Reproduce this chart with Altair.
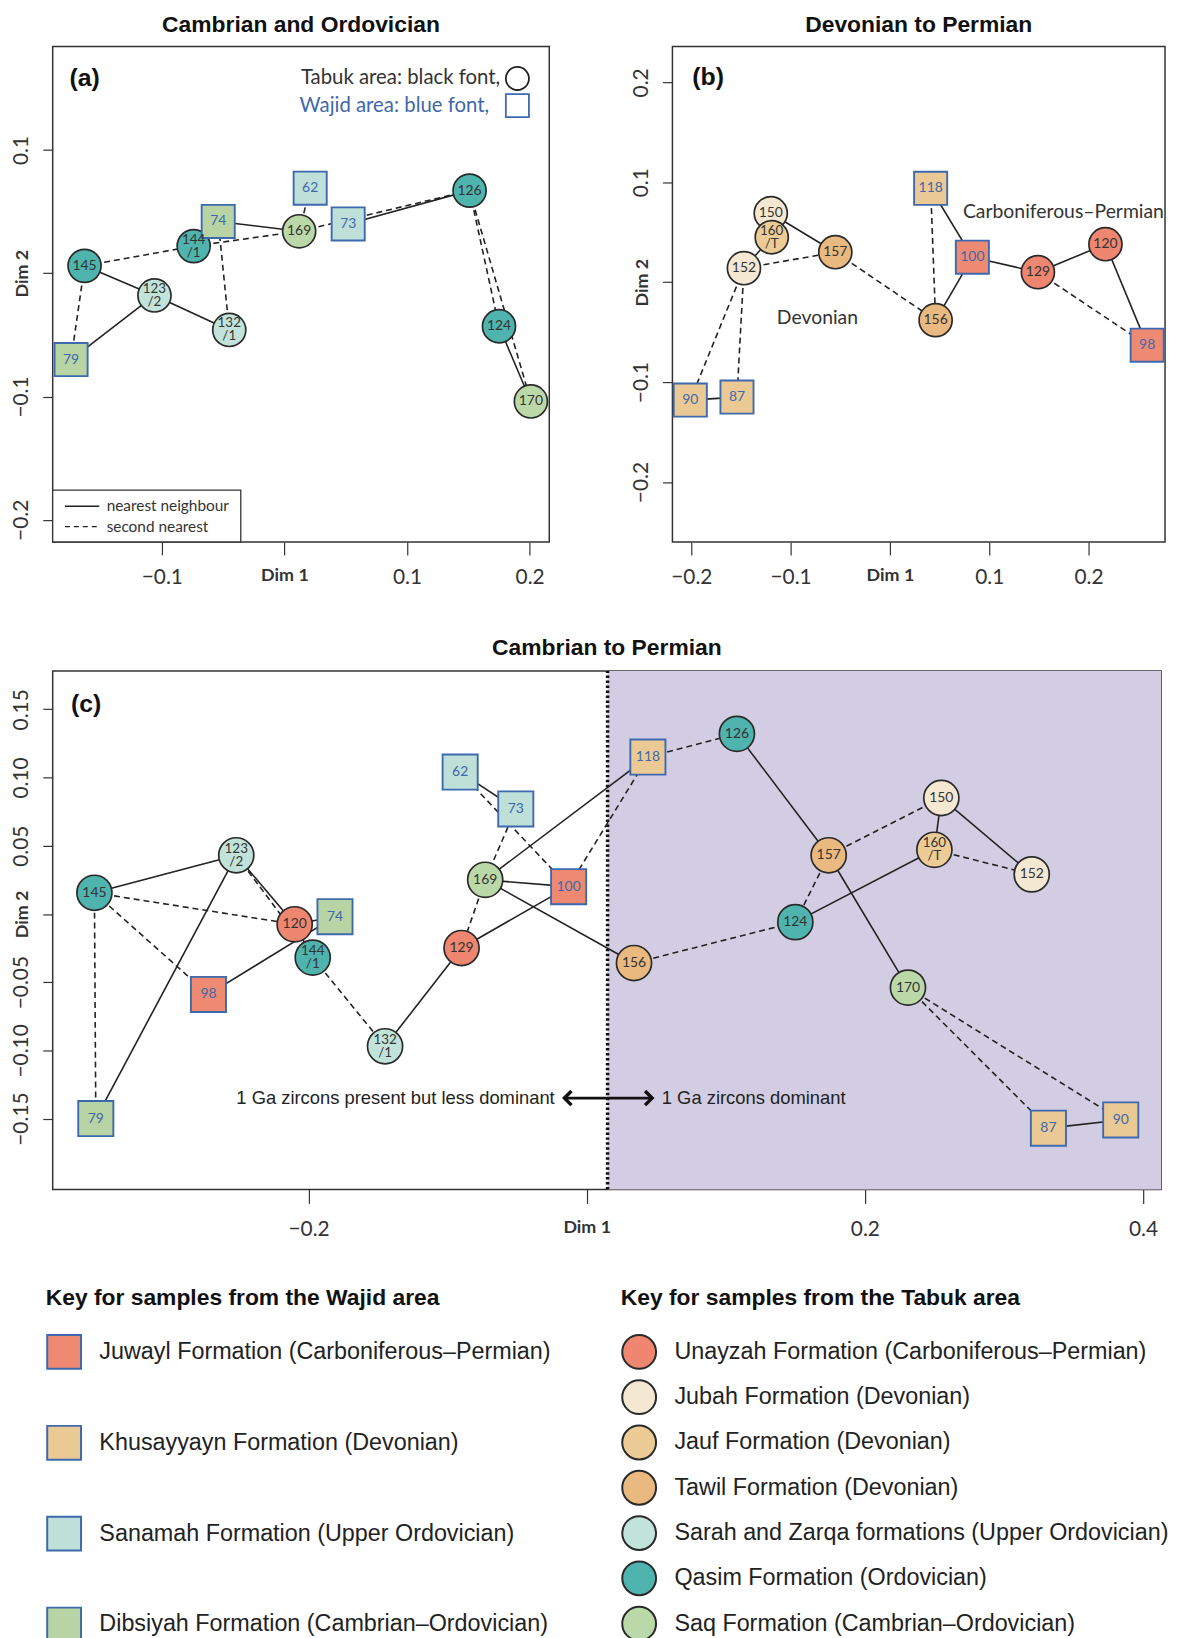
import altair as alt
import pandas as pd

# ---------------- formations ----------------
FORM_KEYS = ["Juwayl", "Khusayyayn", "Sanamah", "Dibsiyah",
             "Unayzah", "Jubah", "Jauf", "Tawil", "Sarah", "Qasim", "Saq"]
FORM_NAMES = ["Juwayl Formation (Carboniferous–Permian)",
              "Khusayyayn Formation (Devonian)",
              "Sanamah Formation (Upper Ordovician)",
              "Dibsiyah Formation (Cambrian–Ordovician)",
              "Unayzah Formation (Carboniferous–Permian)",
              "Jubah Formation (Devonian)",
              "Jauf Formation (Devonian)",
              "Tawil Formation (Devonian)",
              "Sarah and Zarqa formations (Upper Ordovician)",
              "Qasim Formation (Ordovician)",
              "Saq Formation (Cambrian–Ordovician)"]
FORM_AREA = ["Wajid"] * 4 + ["Tabuk"] * 7
FORM_COLORS = ["#EE8A72", "#EAC995", "#BFDFD9", "#B8D4A4",
               "#EE8670", "#F4E8D3", "#EDCB96", "#EAB980", "#C2E3DA", "#4FB3AE", "#BBD9A8"]

# ---------------- panel (a) ----------------
A_IDS = ["145", "123/2", "132/1", "79", "144/1", "74", "169", "62", "73", "126", "124", "170"]
A_X = [-0.163, -0.106, -0.045, -0.174, -0.074, -0.054, 0.012, 0.021, 0.052, 0.151, 0.175, 0.201]
A_Y = [0.006, -0.018, -0.046, -0.070, 0.022, 0.042, 0.034, 0.069, 0.040, 0.067, -0.043, -0.104]
A_FORM = ["Qasim", "Sarah", "Sarah", "Dibsiyah", "Qasim", "Dibsiyah", "Saq", "Sanamah",
          "Sanamah", "Qasim", "Qasim", "Saq"]
A_SOLID = [("145", "123/2"), ("123/2", "132/1"), ("123/2", "79"), ("74", "169"),
           ("73", "126"), ("124", "170"), ("144/1", "74")]
A_DASHED = [("145", "144/1"), ("144/1", "169"), ("145", "79"), ("132/1", "74"),
            ("169", "126"), ("62", "169"), ("126", "124"), ("126", "170")]
A_XDOM = [-0.189, 0.216]
A_YDOM = [-0.218, 0.184]
A_XTICKS = [-0.1, 0, 0.1, 0.2]
A_YTICKS = [-0.2, -0.1, 0, 0.1]

# ---------------- panel (b) ----------------
B_IDS = ["150", "160/T", "152", "157", "90", "87", "156", "118", "100", "129", "120", "98"]
B_X = [-0.120, -0.119, -0.147, -0.055, -0.201, -0.154, 0.046, 0.041, 0.083, 0.149, 0.217, 0.259]
B_Y = [0.069, 0.045, 0.014, 0.030, -0.118, -0.115, -0.038, 0.094, 0.025, 0.010, 0.038, -0.063]
B_FORM = ["Jubah", "Jauf", "Jubah", "Tawil", "Khusayyayn", "Khusayyayn", "Tawil", "Khusayyayn",
          "Juwayl", "Unayzah", "Unayzah", "Juwayl"]
B_SOLID = [("150", "157"), ("150", "160/T"), ("160/T", "152"), ("90", "87"), ("118", "100"),
           ("100", "156"), ("100", "129"), ("129", "120"), ("120", "98")]
B_DASHED = [("152", "157"), ("152", "90"), ("152", "87"), ("157", "156"), ("118", "156"),
            ("129", "98")]
B_XDOM = [-0.219, 0.277]
B_YDOM = [-0.260, 0.236]
B_TICKS = [-0.2, -0.1, 0, 0.1, 0.2]

# ---------------- panel (c) ----------------
C_IDS = ["145", "123/2", "120", "74", "144/1", "98", "132/1", "79", "62", "73", "169", "100",
         "129", "118", "126", "150", "157", "160/T", "152", "124", "156", "170", "87", "90"]
C_X = [-0.354, -0.252, -0.210, -0.181, -0.197, -0.272, -0.145, -0.353, -0.091, -0.051, -0.073,
       -0.013, -0.090, 0.044, 0.108, 0.255, 0.174, 0.250, 0.320, 0.150, 0.034, 0.231, 0.332, 0.384]
C_Y = [0.0155, 0.043, -0.0076, -0.002, -0.032, -0.059, -0.097, -0.150, 0.104, 0.077, 0.025,
       0.020, -0.025, 0.115, 0.132, 0.085, 0.043, 0.047, 0.029, -0.006, -0.036, -0.054, -0.157, -0.151]
C_FORM = ["Qasim", "Sarah", "Unayzah", "Dibsiyah", "Qasim", "Juwayl", "Sarah", "Dibsiyah",
          "Sanamah", "Sanamah", "Saq", "Juwayl", "Unayzah", "Khusayyayn", "Qasim", "Jubah",
          "Tawil", "Jauf", "Jubah", "Qasim", "Tawil", "Saq", "Khusayyayn", "Khusayyayn"]
C_SOLID = [("145", "123/2"), ("123/2", "79"), ("123/2", "120"), ("120", "74"), ("144/1", "120"),
           ("98", "74"), ("132/1", "129"), ("129", "100"), ("169", "100"), ("169", "118"),
           ("169", "156"), ("62", "73"), ("126", "157"), ("157", "170"), ("150", "160/T"),
           ("150", "152"), ("160/T", "124"), ("87", "90")]
C_DASHED = [("145", "79"), ("145", "120"), ("145", "98"), ("123/2", "144/1"), ("144/1", "132/1"),
            ("62", "100"), ("73", "169"), ("169", "129"), ("100", "118"), ("118", "126"),
            ("156", "124"), ("157", "150"), ("157", "124"), ("160/T", "152"), ("170", "87"),
            ("170", "90")]
C_XDOM = [-0.384, 0.413]
C_YDOM = [-0.202, 0.178]
C_XTICKS = [-0.2, 0, 0.2, 0.4]
C_YTICKS = [-0.15, -0.10, -0.05, 0, 0.05, 0.10, 0.15]
C_SPLIT = 0.015

LINE_COL = "#222222"
SQ_STROKE = "#3E69AE"
TXT_BLUE = "#4068AA"
DASH = [6, 4]
LW = 1.6


def nodes_df(ids, xs, ys, forms):
    d = pd.DataFrame({"id": ids, "x": xs, "y": ys, "form": forms})
    parts = d["id"].str.split("/")
    d["l1"] = parts.str[0]
    d["l2"] = parts.apply(lambda p: "/" + p[1] if len(p) > 1 else "")
    info = pd.DataFrame({"form": FORM_KEYS, "name": FORM_NAMES, "area": FORM_AREA,
                         "fill": FORM_COLORS})
    d = d.merge(info, on="form", how="left")
    d["txtcol"] = d["area"].map({"Wajid": TXT_BLUE, "Tabuk": "#333333"})
    return d


def edges_df(nodes, pairs):
    pos = nodes.set_index("id")
    return pd.DataFrame([{"x1": pos.loc[a, "x"], "y1": pos.loc[a, "y"],
                          "x2": pos.loc[b, "x"], "y2": pos.loc[b, "y"]} for a, b in pairs])


def cond(v0, v):
    return {"condition": {"test": "datum.value == 0", "value": v0}, "value": v}


def make_axis(ticks, fmt, name, orient, tick=10, pad=11):
    kw = dict(values=ticks,
              labelExpr=f"datum.value == 0 ? '{name}' : format(datum.value, '{fmt}')",
              grid=False, domain=False, tickSize=tick, tickWidth=1.2, tickColor="#333",
              labelColor="#333", labelFont="Lato", labelFontSize=cond(18, 21),
              labelFontWeight=cond("bold", "normal"), labelOverlap=False, labelFlush=False,
              labelPadding=pad, title=None)
    if orient == "y":
        kw.update(labelAngle=270, labelAlign="center", labelBaseline="bottom",
                  minExtent=44, maxExtent=44)
    return alt.Axis(**kw)


def panel(nodes, solid, dashed, xdom, ydom, xticks, yticks, xfmt, yfmt, size, fontsize,
          xtick=13, xpad=12, legend_c=False):
    xax = make_axis(xticks, xfmt, "Dim 1", "x", tick=xtick, pad=xpad)
    yax = make_axis(yticks, yfmt, "Dim 2", "y")

    def X(f):
        return alt.X(f, type="quantitative", scale=alt.Scale(domain=xdom, nice=False, zero=False),
                     axis=xax, title=None)

    def Y(f):
        return alt.Y(f, type="quantitative", scale=alt.Scale(domain=ydom, nice=False, zero=False),
                     axis=yax, title=None)

    sol = alt.Chart(edges_df(nodes, solid)).mark_rule(color=LINE_COL, strokeWidth=LW).encode(
        x=X("x1"), y=Y("y1"), x2="x2", y2="y2")
    das = alt.Chart(edges_df(nodes, dashed)).mark_rule(
        color=LINE_COL, strokeWidth=LW, strokeDash=DASH).encode(
        x=X("x1"), y=Y("y1"), x2="x2", y2="y2")

    circ = nodes[nodes["area"] == "Tabuk"]
    squ = nodes[nodes["area"] == "Wajid"]
    tab_names = [n for n, a in zip(FORM_NAMES, FORM_AREA) if a == "Tabuk"]
    tab_cols = [c for c, a in zip(FORM_COLORS, FORM_AREA) if a == "Tabuk"]
    waj_names = [n for n, a in zip(FORM_NAMES, FORM_AREA) if a == "Wajid"]
    waj_cols = [c for c, a in zip(FORM_COLORS, FORM_AREA) if a == "Wajid"]

    leg_common = dict(orient="none", direction="vertical", labelFont="Liberation Sans",
                      labelFontSize=23.5, labelColor="#222", titleFont="Liberation Sans",
                      titleFontSize=23, titleFontWeight="bold", titleColor="#111",
                      titlePadding=24, labelOffset=17, labelLimit=800, titleLimit=800,
                      symbolSize=1160, symbolStrokeWidth=2, padding=0, symbolOpacity=1)
    if legend_c:
        fill_c = alt.Fill("name:N", scale=alt.Scale(domain=tab_names, range=tab_cols),
                          legend=alt.Legend(title="Key for samples from the Tabuk area",
                                            legendX=572, legendY=620, symbolType="circle",
                                            symbolStrokeColor="#2a2a2a", rowPadding=2.6,
                                            **leg_common))
        fill_s = alt.Fill("name:N", scale=alt.Scale(domain=waj_names, range=waj_cols),
                          legend=alt.Legend(title="Key for samples from the Wajid area",
                                            legendX=-7, legendY=620, symbolType="square",
                                            symbolStrokeColor=SQ_STROKE, rowPadding=48.5,
                                            **leg_common))
    else:
        fill_c = alt.Fill("fill:N", scale=None)
        fill_s = alt.Fill("fill:N", scale=None)

    pc = alt.Chart(circ).mark_point(shape="circle", filled=True, size=size, stroke="#2a2a2a",
                                    strokeWidth=1.7, opacity=1).encode(
        x=X("x"), y=Y("y"), fill=fill_c)
    ps = alt.Chart(squ).mark_point(shape="square", filled=True, size=size, stroke=SQ_STROKE,
                                   strokeWidth=1.9, opacity=1).encode(
        x=X("x"), y=Y("y"), fill=fill_s)
    single = nodes[nodes["l2"] == ""]
    double = nodes[nodes["l2"] != ""]
    col = alt.Color("txtcol:N", scale=None)
    lab1 = alt.Chart(single).mark_text(font="Lato", fontSize=fontsize, baseline="middle",
                                       align="center").encode(
        x=X("x"), y=Y("y"), text="l1:N", color=col)
    lab2a = alt.Chart(double).mark_text(font="Lato", fontSize=fontsize - 0.5, baseline="middle",
                                        align="center", dy=-6.5).encode(
        x=X("x"), y=Y("y"), text="l1:N", color=col)
    lab2b = alt.Chart(double).mark_text(font="Lato", fontSize=fontsize - 0.5, baseline="middle",
                                        align="center", dy=6.5).encode(
        x=X("x"), y=Y("y"), text="l2:N", color=col)
    return X, Y, [sol, das], [pc, ps, lab1, lab2a, lab2b]


def tchart(df, X, Y, **mk):
    return alt.Chart(df).mark_text(**mk).encode(x=X("x"), y=Y("y"), text="t:N")


# ================= panel (a) =================
na = nodes_df(A_IDS, A_X, A_Y, A_FORM)
Xa, Ya, ea, pa = panel(na, A_SOLID, A_DASHED, A_XDOM, A_YDOM, A_XTICKS, A_YTICKS, ".1f", ".1f",
                       1110, 14)
A_KEYBOX = pd.DataFrame({"x": [A_XDOM[0]], "x2": [-0.0356], "y": [A_YDOM[0]], "y2": [-0.176]})
A_KEYLINES = pd.DataFrame({"x": [-0.179, -0.179], "x2": [-0.151, -0.151], "y": [-0.189, -0.2055],
                           "k": ["solid", "dashed"]})
A_KEYTXT = pd.DataFrame({"x": [-0.145, -0.145], "y": [-0.189, -0.2055],
                         "t": ["nearest neighbour", "second nearest"]})
keybox = alt.Chart(A_KEYBOX).mark_rect(fill="white", stroke="#333", strokeWidth=1.3).encode(
    x=Xa("x"), x2="x2", y=Ya("y"), y2="y2")
keyl1 = alt.Chart(A_KEYLINES[A_KEYLINES.k == "solid"]).mark_rule(
    color=LINE_COL, strokeWidth=1.4).encode(x=Xa("x"), x2="x2", y=Ya("y"))
keyl2 = alt.Chart(A_KEYLINES[A_KEYLINES.k == "dashed"]).mark_rule(
    color=LINE_COL, strokeWidth=1.4, strokeDash=[5, 4]).encode(x=Xa("x"), x2="x2", y=Ya("y"))
keyt = tchart(A_KEYTXT, Xa, Ya, font="Lato", fontSize=15.5, align="left", baseline="middle",
              color="#333")
a_tag = tchart(pd.DataFrame({"x": [-0.163], "y": [0.158], "t": ["(a)"]}), Xa, Ya,
               font="Liberation Sans", fontSize=25, fontWeight="bold", align="center",
               baseline="middle", color="#111")
a_area1 = tchart(pd.DataFrame({"x": [0.176], "y": [0.158], "t": ["Tabuk area: black font,"]}),
                 Xa, Ya, font="Lato", fontSize=20.5, align="right", baseline="middle",
                 color="#333")
a_area2 = tchart(pd.DataFrame({"x": [0.167], "y": [0.136], "t": ["Wajid area: blue font,"]}),
                 Xa, Ya, font="Lato", fontSize=20.5, align="right", baseline="middle",
                 color=TXT_BLUE)
a_kc = alt.Chart(pd.DataFrame({"x": [0.190], "y": [0.158]})).mark_point(
    shape="circle", filled=False, size=540, stroke="#222", strokeWidth=1.8, opacity=1).encode(
    x=Xa("x"), y=Ya("y"))
a_ks = alt.Chart(pd.DataFrame({"x": [0.190], "y": [0.136]})).mark_point(
    shape="square", filled=False, size=540, stroke=SQ_STROKE, strokeWidth=1.8, opacity=1).encode(
    x=Xa("x"), y=Ya("y"))
chart_a = alt.layer(keybox, keyl1, keyl2, keyt, *ea, *pa, a_tag, a_area1, a_area2, a_kc, a_ks
                    ).properties(width=500, height=499,
                                 title=alt.TitleParams("Cambrian and Ordovician"))

# ================= panel (b) =================
nb = nodes_df(B_IDS, B_X, B_Y, B_FORM)
Xb, Yb, eb, pb = panel(nb, B_SOLID, B_DASHED, B_XDOM, B_YDOM, B_TICKS, B_TICKS, ".1f", ".1f",
                       1110, 14)
b_tag = tchart(pd.DataFrame({"x": [-0.183], "y": [0.205], "t": ["(b)"]}), Xb, Yb,
               font="Liberation Sans", fontSize=25, fontWeight="bold", align="center",
               baseline="middle", color="#111")
b_txt1 = tchart(pd.DataFrame({"x": [-0.073], "y": [-0.036], "t": ["Devonian"]}), Xb, Yb,
                font="Lato", fontSize=19.5, align="center", baseline="middle", color="#333")
b_txt2 = tchart(pd.DataFrame({"x": [0.0735], "y": [0.070], "t": ["Carboniferous–Permian"]}),
                Xb, Yb, font="Lato", fontSize=19.5, align="left", baseline="middle",
                color="#333")
chart_b = alt.layer(*eb, *pb, b_tag, b_txt1, b_txt2).properties(
    width=496, height=499, title=alt.TitleParams("Devonian to Permian"))

# ================= panel (c) =================
nc = nodes_df(C_IDS, C_X, C_Y, C_FORM)
Xc, Yc, ec, pc_ = panel(nc, C_SOLID, C_DASHED, C_XDOM, C_YDOM, C_XTICKS, C_YTICKS, ".1f", ".2f",
                        1250, 14, xtick=14, xpad=15, legend_c=True)
shade = alt.Chart(pd.DataFrame({"x": [C_SPLIT], "x2": [C_XDOM[1]], "y": [C_YDOM[0]],
                                "y2": [C_YDOM[1]]})).mark_rect(color="#D3CDE4").encode(
    x=Xc("x"), x2="x2", y=Yc("y"), y2="y2")
split = alt.Chart(pd.DataFrame({"x": [C_SPLIT], "y": [C_YDOM[0]], "y2": [C_YDOM[1]]})).mark_rule(
    color="#111", strokeWidth=3.5, strokeDash=[2.5, 2.5]).encode(x=Xc("x"), y=Yc("y"), y2="y2")
ARROW = pd.DataFrame({"x": [-0.016], "x2": [0.047], "y": [-0.135]})
arrow = alt.Chart(ARROW).mark_rule(color="#111", strokeWidth=3).encode(
    x=Xc("x"), x2="x2", y=Yc("y"))
head_l = alt.Chart(ARROW).mark_point(shape="M1,-1L0,0L1,1", filled=False, size=200,
                                     stroke="#111", strokeWidth=3.5, opacity=1).encode(
    x=Xc("x"), y=Yc("y"))
head_r = alt.Chart(ARROW).mark_point(shape="M-1,-1L0,0L-1,1", filled=False, size=200,
                                     stroke="#111", strokeWidth=3.5, opacity=1).encode(
    x=Xc("x2"), y=Yc("y"))
c_t1 = tchart(pd.DataFrame({"x": [-0.023], "y": [-0.135],
                            "t": ["1 Ga zircons present but less dominant"]}), Xc, Yc,
              font="Liberation Sans", fontSize=18.5, align="right", baseline="middle",
              color="#222")
c_t2 = tchart(pd.DataFrame({"x": [0.054], "y": [-0.135], "t": ["1 Ga zircons dominant"]}),
              Xc, Yc, font="Liberation Sans", fontSize=18.5, align="left", baseline="middle",
              color="#222")
c_tag = tchart(pd.DataFrame({"x": [-0.360], "y": [0.154], "t": ["(c)"]}), Xc, Yc,
               font="Liberation Sans", fontSize=25, fontWeight="bold", align="center",
               baseline="middle", color="#111")
chart_c = alt.layer(shade, split, *ec, *pc_, arrow, head_l, head_r, c_t1, c_t2, c_tag
                    ).resolve_scale(fill="independent").properties(
    width=1116, height=522, title=alt.TitleParams("Cambrian to Permian"))

row1 = alt.hconcat(chart_a, chart_b, spacing=76)
chart = alt.vconcat(row1, chart_c, spacing=48).resolve_scale(fill="independent").properties(
    padding=0, background="white"
).configure_view(stroke="#333", strokeWidth=1.5).configure_title(
    font="Liberation Sans", fontSize=23, fontWeight="bold", color="#111", anchor="middle",
    frame="group", offset=9)

chart.save("out.html", embed_options={"renderer": "svg", "actions": False})
